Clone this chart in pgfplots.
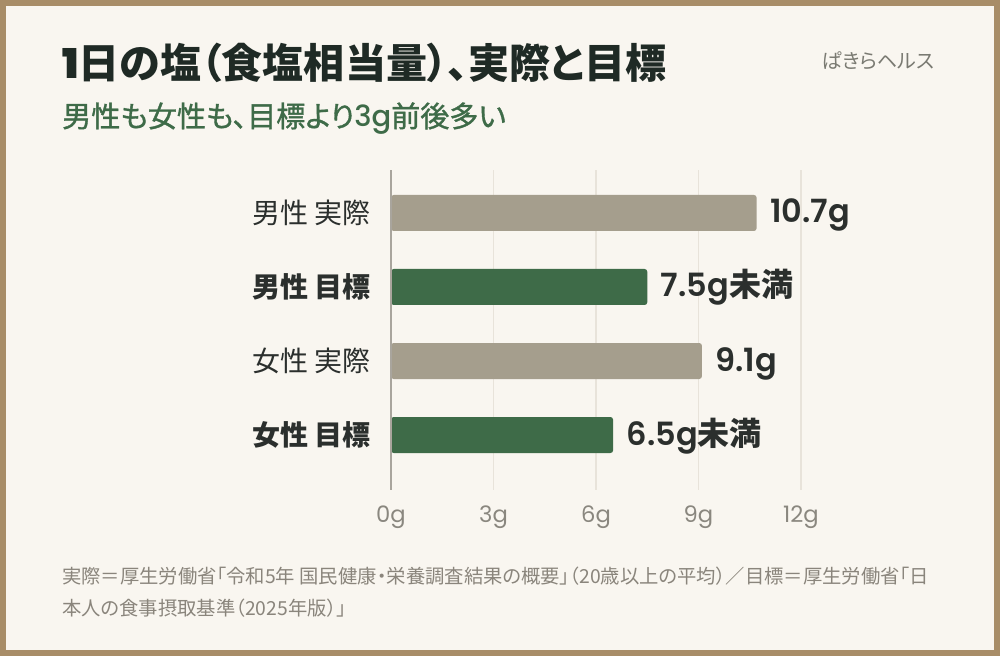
\documentclass[border=0pt]{standalone}
\usepackage{fontspec}
\usepackage{pgfplots}
\pgfplotsset{compat=1.18}
\setmainfont{Noto Sans CJK JP}
\newfontfamily\jp{Noto Sans CJK JP}
\newfontfamily\jpp[RawFeature=+palt]{Noto Sans CJK JP}
\newfontfamily\jpm[RawFeature=+palt,FakeBold=1.2]{Noto Sans CJK JP}
\newfontfamily\pop{Poppins}
\newfontfamily\pops{Poppins SemiBold}
\newfontfamily\popm{Poppins Medium}
\definecolor{bgcol}{HTML}{F9F6F0}
\definecolor{bordercol}{HTML}{A88D68}
\definecolor{titlecol}{HTML}{1F2A25}
\definecolor{greencol}{HTML}{3E6B48}
\definecolor{graybar}{HTML}{A59E8D}
\definecolor{tickcol}{HTML}{8A877F}
\definecolor{footcol}{HTML}{8A857C}
\definecolor{gridcol}{HTML}{E8E3DA}
\definecolor{axiscol}{HTML}{A9A59D}
\definecolor{labcol}{HTML}{2B2F2D}
\definecolor{brandcol}{HTML}{7A7A72}
\begin{document}
\begin{tikzpicture}[x=0.75pt,y=0.75pt]
\fill[bordercol] (0,0) rectangle (1000,656);
\fill[bgcol] (6,6) rectangle (994,650);
\node[anchor=base west, inner sep=0pt, text=titlecol, font=\jpp\bfseries\fontsize{30.8}{36}\selectfont] at (62,656-79) {{\pops 1}日の塩（食塩相当量）、実際と目標};
\node[anchor=base west, inner sep=0pt, text=greencol, font=\jpm\fontsize{21.8}{26}\selectfont] at (62,656-127) {男性も女性も、目標より{\popm 3g}前後多い};
\node[anchor=base west, inner sep=0pt, text=brandcol, font=\jpp\fontsize{15}{18}\selectfont] at (822,656-69) {ぱきらヘルス};
\node[anchor=base west, inner sep=0pt, text=footcol, font=\jpp\fontsize{14.5}{17}\selectfont] at (62,656-584) {実際＝厚生労働省「令和5年 国民健康・栄養調査結果の概要」（20歳以上の平均）／目標＝厚生労働省「日};
\node[anchor=base west, inner sep=0pt, text=footcol, font=\jpp\fontsize{14.5}{17}\selectfont] at (62,656-616) {本人の食事摂取基準（2025年版）」};
\begin{axis}[
  at={(293.25pt,124.5pt)}, anchor=south west,
  scale only axis, width=307.5pt, height=240pt,
  xmin=0, xmax=12, ymin=0.257, ymax=4.581,
  xbar, bar width=27pt, bar shift=0pt,
  axis line style={draw=none},
  xtick={0,3,6,9,12}, xticklabels={0g,3g,6g,9g,12g},
  ytick={1,2,3,4},
  yticklabels={{\bfseries 女性 目標},{女性 実際},{\bfseries 男性 目標},{男性 実際}},
  major tick length=0pt,
  xmajorgrids, major grid style={gridcol, line width=1.2pt},
  xticklabel style={font=\pop\fontsize{17}{20}\selectfont, text=tickcol, anchor=base, inner sep=0pt, yshift=-24.75pt},
  yticklabel style={font=\jp\fontsize{21}{25}\selectfont, text=labcol, anchor=east, inner sep=0pt, xshift=-15pt},
  nodes near coords style={anchor=base west, inner sep=0pt, xshift=10pt, yshift=-7.5pt, font=\pops\fontsize{24}{28}\selectfont, text=labcol},
  clip=false,
]
\addplot[fill=graybar, draw=none, rounded corners=2pt, nodes near coords, point meta=explicit symbolic] coordinates {(10.7,4) [10.7g] (9.1,2) [9.1g]};
\addplot[fill=greencol, draw=none, rounded corners=2pt, nodes near coords, point meta=explicit symbolic] coordinates {(7.5,3) [{7.5g{\jp\bfseries 未満}}] (6.5,1) [{6.5g{\jp\bfseries 未満}}]};
\draw[axiscol, line width=1.5pt] (rel axis cs:0,0) -- (rel axis cs:0,1);
\end{axis}
\end{tikzpicture}
\end{document}
